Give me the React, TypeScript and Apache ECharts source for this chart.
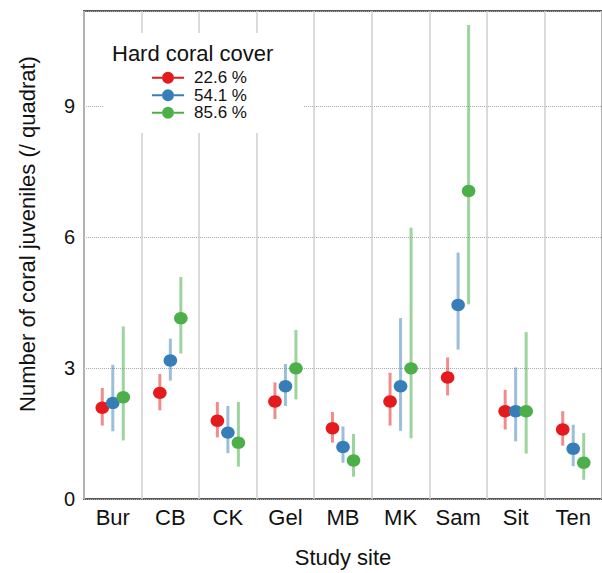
import React, { useEffect, useRef } from "react";
import * as echarts from "echarts";

const sites = ["Bur", "CB", "CK", "Gel", "MB", "MK", "Sam", "Sit", "Ten"];
const coverLevels = ["22.6 %", "54.1 %", "85.6 %"];
const yTicks = [0, 3, 6, 9];

// estimates (mean) and interval bounds for each coral cover level
const mean226 = [2.09, 2.43, 1.79, 2.23, 1.62, 2.23, 2.78, 2.01, 1.59];
const low226 = [1.68, 2.03, 1.41, 1.83, 1.29, 1.68, 2.37, 1.59, 1.22];
const high226 = [2.54, 2.86, 2.22, 2.67, 1.99, 2.89, 3.24, 2.5, 2.01];

const mean541 = [2.2, 3.17, 1.52, 2.58, 1.19, 2.58, 4.44, 2.01, 1.15];
const low541 = [1.55, 2.71, 1.05, 2.13, 0.83, 1.56, 3.42, 1.32, 0.75];
const high541 = [3.07, 3.67, 2.13, 3.09, 1.66, 4.14, 5.64, 3.01, 1.7];

const mean856 = [2.33, 4.14, 1.29, 2.99, 0.88, 2.99, 7.05, 2.01, 0.83];
const low856 = [1.34, 3.33, 0.74, 2.28, 0.51, 1.39, 4.46, 1.04, 0.44];
const high856 = [3.95, 5.08, 2.22, 3.87, 1.49, 6.21, 10.85, 3.82, 1.51];

const FONT = "'Liberation Sans', Arial, Helvetica, sans-serif";
const colors = ["#E41A1C", "#377EB8", "#4DAF4A"];
const barColors = ["rgba(228,26,28,0.5)", "rgba(55,126,184,0.5)", "rgba(77,175,74,0.55)"];
const offsets = [-10.5, 0, 10.5];

const groups = [
  [mean226, low226, high226],
  [mean541, low541, high541],
  [mean856, low856, high856],
];

const legendIcon =
  "path://M0,5 L10,5 L10,7 L0,7 Z M22,5 L32,5 L32,7 L22,7 Z M10,6 A6,6 0 1 1 22,6 A6,6 0 1 1 10,6 Z";

export default function App() {
  const ref = useRef<HTMLDivElement>(null);

  useEffect(() => {
    if (!ref.current) return;
    const chart = echarts.init(ref.current, null, { renderer: "svg" });

    const series = groups.map((g, k) => ({
      type: "custom",
      name: coverLevels[k],
      itemStyle: { color: colors[k] },
      encode: { x: 0, y: [1, 2, 3] },
      data: sites.map((_, i) => [i, g[0][i], g[1][i], g[2][i]]),
      renderItem: (params: any, api: any) => {
        const idx = api.value(0);
        const pM = api.coord([idx, api.value(1)]);
        const pL = api.coord([idx, api.value(2)]);
        const pH = api.coord([idx, api.value(3)]);
        const cx = pM[0] + offsets[k];
        return {
          type: "group",
          children: [
            {
              type: "line",
              shape: { x1: cx, y1: pH[1], x2: cx, y2: pL[1] },
              style: { stroke: barColors[k], lineWidth: 3 },
            },
            {
              type: "ellipse",
              shape: { cx, cy: pM[1], rx: 6.8, ry: 6.2 },
              style: { fill: colors[k] },
            },
          ],
        };
      },
      z: 3 + k,
    }));

    chart.setOption({
      animation: false,
      textStyle: { fontFamily: FONT },
      grid: {
        left: 84,
        right: -7,
        top: 11,
        bottom: 67,
        show: true,
        borderColor: "#5a5a5a",
        borderWidth: 2,
        backgroundColor: "transparent",
      },
      title: {
        text: "Hard coral cover",
        left: 112,
        top: 41,
        padding: 0,
        z: 10,
        textStyle: { fontSize: 22, fontWeight: "normal", color: "#111", fontFamily: FONT, lineHeight: 24 },
      },
      legend: {
        data: coverLevels,
        orient: "vertical",
        left: 152,
        top: 69,
        padding: 0,
        itemWidth: 32,
        itemHeight: 12,
        itemGap: 0,
        icon: legendIcon,
        z: 10,
        selectedMode: false,
        textStyle: { fontSize: 17, color: "#111", fontFamily: FONT, lineHeight: 17.5, padding: [0, 0, 0, 5] },
      },
      graphic: [
        {
          type: "rect",
          left: 103,
          top: 33,
          z: 5,
          shape: { width: 200, height: 100 },
          style: { fill: "#ffffff" },
        },
      ],
      xAxis: {
        type: "category",
        data: sites,
        boundaryGap: true,
        axisLine: { show: false },
        axisTick: { show: false },
        axisLabel: { fontSize: 22, color: "#111", margin: 7, interval: 0, fontFamily: FONT },
        splitLine: { show: true, interval: 0, lineStyle: { color: "#cfcfcf", width: 1.5 } },
        name: "Study site",
        nameLocation: "middle",
        nameGap: 47,
        nameTextStyle: { fontSize: 22, color: "#111", fontFamily: FONT },
      },
      yAxis: {
        type: "value",
        min: 0,
        max: 11.17,
        interval: 3,
        axisLine: { show: false },
        axisTick: { show: false },
        axisLabel: {
          fontSize: 20,
          color: "#111",
          margin: 9,
          showMaxLabel: false,
          fontFamily: FONT,
          formatter: (v: number) => (yTicks.includes(v) ? String(v) : ""),
        },
        splitLine: { show: true, lineStyle: { color: "#aaaaaa", width: 1, type: "dotted" } },
        name: "Number of coral juveniles (/ quadrat)",
        nameLocation: "middle",
        nameGap: 46,
        nameTextStyle: { fontSize: 22, color: "#111", fontFamily: FONT, padding: [0, 0, 0, 42] },
      },
      series,
    });

    return () => chart.dispose();
  }, []);

  return (
    <div
      ref={ref}
      style={{ position: "fixed", left: 0, top: 0, width: 602, height: 573, background: "#fff" }}
    />
  );
}
